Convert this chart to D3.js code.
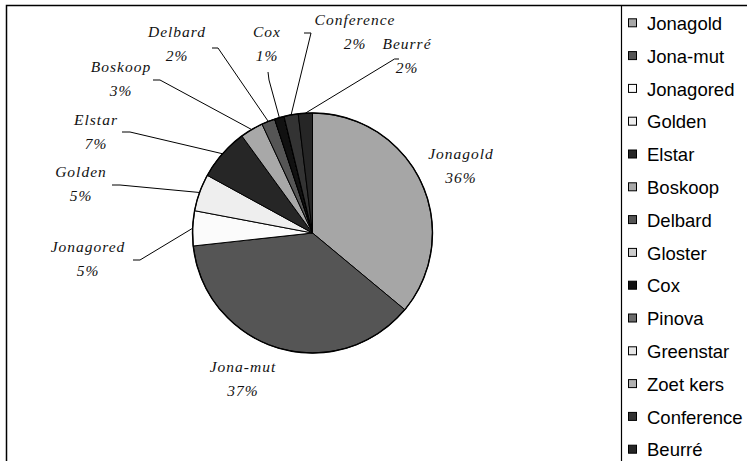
<!DOCTYPE html>
<html>
<head>
<meta charset="utf-8">
<script src="https://cdn.jsdelivr.net/npm/d3@7/dist/d3.min.js"></script>
<style>
  html, body { margin: 0; padding: 0; background: #fff; }
  svg { display: block; }
  .lbl { font-family: "Liberation Serif", "Times New Roman", serif; font-style: italic; font-size: 15.5px; letter-spacing: 1px; fill: #111; }
  .leg { font-family: "Liberation Sans", Arial, sans-serif; font-size: 18.5px; fill: #000; }
</style>
</head>
<body>
<svg id="chart" width="747" height="461"></svg>
<script>
// Varieties, in legend / slice order
const varieties = ["Jonagold", "Jona-mut", "Jonagored", "Golden", "Elstar", "Boskoop", "Delbard",
                   "Gloster", "Cox", "Pinova", "Greenstar", "Zoet kers", "Conference", "Beurré"];
// Share of each variety (percent)
const shares = [36.0, 37.2, 4.7, 5.0, 7.0, 3.1, 1.8, 0, 1.3, 0, 0, 0, 1.9, 1.9];
// Fill per variety
const fills = ["#a6a6a6", "#555555", "#fbfbfb", "#eeeeee", "#262626", "#a8a8a8", "#555555",
               "#cccccc", "#111111", "#6b6b6b", "#e6e6e6", "#b0b0b0", "#333333", "#262626"];

// Label placement: text centre x, first baseline y, and the leader's start points
const labelPlacement = {
  "Jonagold":   { x: 461, y: 159, leader: null },
  "Jona-mut":   { x: 243, y: 372, leader: null },
  "Jonagored":  { x: 88,  y: 252, leader: [[133, 260], [140, 260]] },
  "Golden":     { x: 81,  y: 177, leader: [[112, 185], [120, 185]] },
  "Elstar":     { x: 96,  y: 125, leader: [[122, 132], [130, 132]] },
  "Boskoop":    { x: 121, y: 72,  leader: [[153, 80], [160, 80]] },
  "Delbard":    { x: 177, y: 37,  leader: [[212, 48], [218, 48]] },
  "Cox":        { x: 267, y: 37,  leader: [[268, 72], [269, 80]] },
  "Conference": { x: 355, y: 25,  leader: [[304, 33], [311, 33]] },
  "Beurré":     { x: 407, y: 49,  leader: [[399, 59], [394.5, 59]] }
};

const W = 747, H = 461;
const cx = 312.5, cy = 233, R = 120;
const frame = { left: 6, top: 5, divider: 621 };

const svg = d3.select("#chart");

// Chart frame: outer border (running off the right/bottom) and legend divider
svg.append("path")
  .attr("d", `M${frame.left + 0.5},${H + 2}V${frame.top + 0.5}H${W + 2}`)
  .attr("fill", "none").attr("stroke", "#000").attr("stroke-width", 1.5);
svg.append("line")
  .attr("x1", frame.divider + 0.5).attr("x2", frame.divider + 0.5)
  .attr("y1", frame.top).attr("y2", H + 2)
  .attr("stroke", "#000").attr("stroke-width", 1.2);

const data = varieties.map((name, i) => ({ name, value: shares[i], fill: fills[i] }));
const total = d3.sum(shares);

const pie = d3.pie().sort(null).value(d => d.value);
const arcs = pie(data);
const arc = d3.arc().innerRadius(0).outerRadius(R);
const edge = d3.arc().innerRadius(R).outerRadius(R);

const g = svg.append("g").attr("transform", `translate(${cx},${cy})`);
g.selectAll("path.slice")
  .data(arcs)
  .join("path")
  .attr("class", "slice")
  .attr("d", arc)
  .attr("fill", d => d.data.fill)
  .attr("stroke", "#000")
  .attr("stroke-width", 1)
  .attr("stroke-linejoin", "round");

// outer rim drawn a little heavier
g.append("circle").attr("r", R).attr("fill", "none").attr("stroke", "#000").attr("stroke-width", 1.4);

// Data labels with leader lines
const line = d3.line();
arcs.filter(d => d.value > 0).forEach(d => {
  const p = labelPlacement[d.data.name];
  if (!p) return;
  const pct = Math.round(d.value / total * 100) + "%";
  if (p.leader) {
    const [ex, ey] = edge.centroid(d);
    const pts = p.leader.concat([[cx + ex, cy + ey]]);
    svg.append("path").attr("d", line(pts))
      .attr("fill", "none").attr("stroke", "#000").attr("stroke-width", 1);
  }
  const t = svg.append("text").attr("class", "lbl").attr("text-anchor", "middle");
  t.append("tspan").attr("x", p.x).attr("y", p.y).text(d.data.name);
  t.append("tspan").attr("x", p.x).attr("y", p.y + 23.5).text(pct);
});

// Legend
const legY = d3.scalePoint().domain(varieties).range([23.3, 449.7]);
const leg = svg.append("g").selectAll("g").data(data).join("g")
  .attr("transform", d => `translate(0,${legY(d.name)})`);
leg.append("rect")
  .attr("x", 628.5).attr("y", -4.5).attr("width", 8).attr("height", 8)
  .attr("fill", d => d.fill).attr("stroke", "#000").attr("stroke-width", 1);
leg.append("text").attr("class", "leg")
  .attr("x", 647).attr("y", 6.7)
  .text(d => d.name);
</script>
</body>
</html>
